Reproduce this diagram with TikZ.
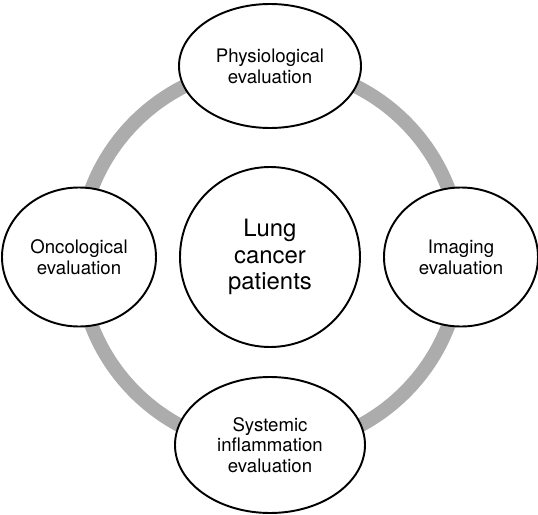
\documentclass[tikz,border=0pt]{standalone}
\usepackage{fontspec}
\setsansfont{TeX Gyre Heros}
\usetikzlibrary{positioning, shapes.geometric}

\begin{document}
\begin{tikzpicture}[node distance=3.82cm, on grid, every node/.style={font=\sffamily},
  eval/.style={draw, ellipse, fill=white, line width=1.1pt, align=center, inner sep=0pt,
    font=\sffamily\fontsize{10.6}{11.8}\selectfont},
  ring/.style={draw=gray!65, line width=8pt}]
  \useasboundingbox (-5.4,5.14) rectangle (5.36,-5.16);
  \node[draw, circle, line width=1.1pt, minimum size=3.6cm, align=center,
    font=\sffamily\fontsize{13.6}{15.2}\selectfont] (patients) {Lung\\cancer\\patients};

  \draw[ring] (patients) circle (3.82cm);

  \node[eval, minimum width=3.64cm, minimum height=2.48cm, above=of patients] (physio) {Physiological\\evaluation};
  \node[eval, minimum width=3.08cm, minimum height=2.78cm, right=of patients] (imaging) {Imaging\\evaluation};
  \node[eval, minimum width=3.8cm, minimum height=2.72cm, below=3.76cm of patients] (systemic) {Systemic\\inflammation\\evaluation};
  \node[eval, minimum width=3.08cm, minimum height=2.78cm, left=of patients] (onco) {Oncological\\evaluation};
\end{tikzpicture}
\end{document}
